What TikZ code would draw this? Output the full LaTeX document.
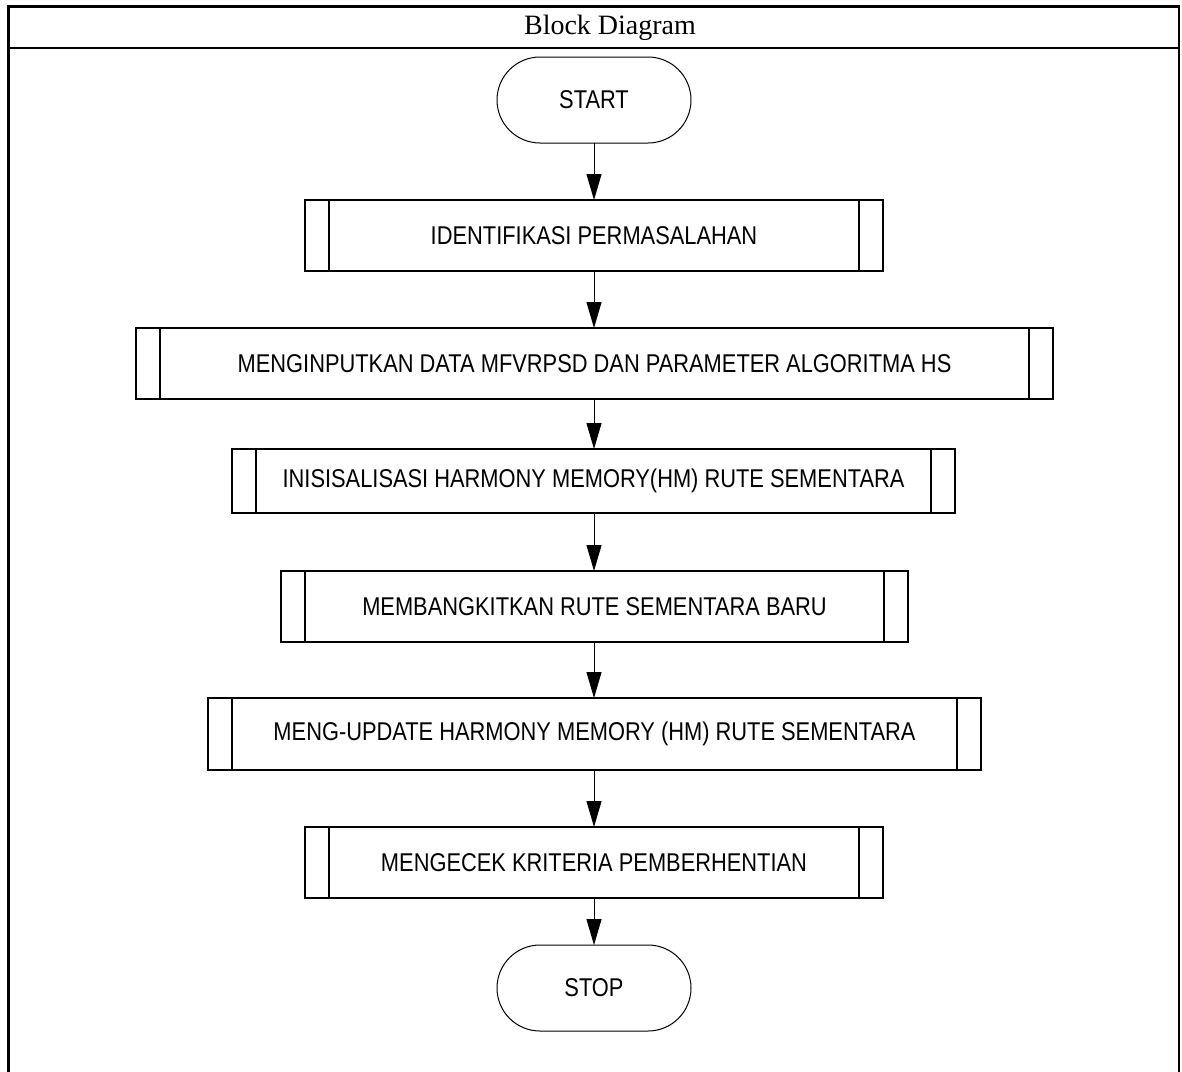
\documentclass[tikz,border=0pt]{standalone}
\usepackage{fontspec}
\setmainfont{Liberation Serif}
\newfontfamily\boxfont[FakeStretch=0.85]{Liberation Sans}
\usetikzlibrary{arrows.meta}

\begin{document}
\begin{tikzpicture}[x=1pt,y=-1pt,
  frame/.style={line width=2.4pt},
  subproc/.style={draw, line width=1.3pt, inner sep=0pt, outer sep=0pt,
    minimum height=71pt, font=\fontsize{25.7}{30}\selectfont\boxfont},
  terminal/.style={draw, line width=1pt, inner sep=0pt, outer sep=0pt,
    rounded corners=43pt, minimum width=194pt, minimum height=86pt,
    font=\fontsize{25.7}{30}\selectfont\boxfont},
  flow/.style={line width=1pt, -{Triangle[length=26pt,width=15pt]}},
  bar/.style={line width=1.3pt}]

\useasboundingbox (0,0) rectangle (1182,1071);

% table frame with its title row
\draw[frame] (8.5,1080) -- (8.5,6.5) -- (1179,6.5) -- (1179,1080);
\draw[frame] (8.5,48) -- (1179,48);
\node[font=\fontsize{28}{32}\selectfont] (title) at (610,27.5) {Block Diagram};

% flowchart
\node[terminal] (start) at (594,100) {START};
\node[subproc, minimum width=578pt] (p1) at (594,235.5) {IDENTIFIKASI PERMASALAHAN};
\node[subproc, minimum width=917pt] (p2) at (594.5,363.5) {MENGINPUTKAN DATA MFVRPSD DAN PARAMETER ALGORITMA HS};
\node[subproc, minimum width=723pt, minimum height=64pt] (p3) at (593.5,481) {INISISALISASI HARMONY MEMORY(HM) RUTE SEMENTARA};
\node[subproc, minimum width=627pt] (p4) at (594.5,606.5) {MEMBANGKITKAN RUTE SEMENTARA BARU};
\node[subproc, minimum width=773pt, minimum height=72pt] (p5) at (594.5,734) {MENG-UPDATE HARMONY MEMORY (HM) RUTE SEMENTARA};
\node[subproc, minimum width=578pt] (p6) at (594,862.5) {MENGECEK KRITERIA PEMBERHENTIAN};
\node[terminal] (stop) at (594,988) {STOP};

% inner side bars of the predefined-process boxes
\foreach \n in {p1,p2,p3,p4,p5,p6}
  \draw[bar] ([xshift=24pt]\n.north west) -- ([xshift=24pt]\n.south west)
             ([xshift=-24pt]\n.north east) -- ([xshift=-24pt]\n.south east);

% connectors
\draw[flow] (start.south) -- (start.south |- p1.north);
\draw[flow] (p1.south) -- (p1.south |- p2.north);
\draw[flow] (p1.south |- p2.south) -- (p1.south |- p3.north);
\draw[flow] (p1.south |- p3.south) -- (p1.south |- p4.north);
\draw[flow] (p1.south |- p4.south) -- (p1.south |- p5.north);
\draw[flow] (p1.south |- p5.south) -- (p1.south |- p6.north);
\draw[flow] (p6.south) -- (stop.north);
\end{tikzpicture}
\end{document}
